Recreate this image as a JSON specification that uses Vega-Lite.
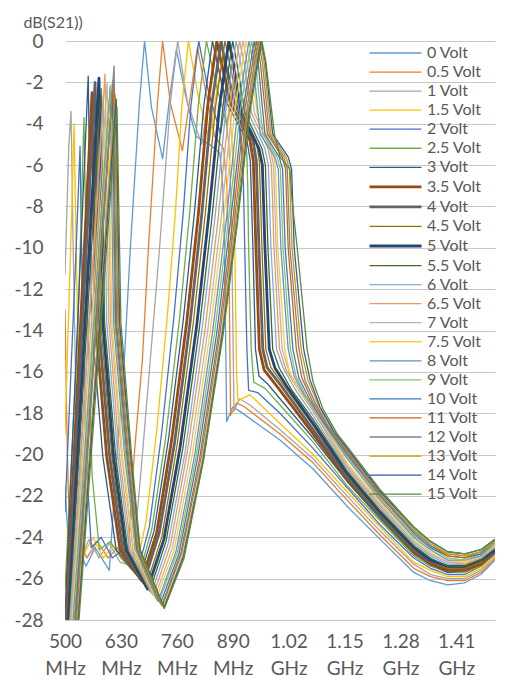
{
  "$schema": "https://vega.github.io/schema/vega-lite/v6.json",
  "width": 430,
  "height": 579,
  "autosize": {"type": "none"},
  "padding": {"left": 65, "top": 41, "right": 37, "bottom": 66},
  "background": "white",
  "config": {
    "view": {"stroke": null},
    "font": "Lato",
    "axis": {"labelFont": "Lato", "titleFont": "Lato", "labelColor": "#595959", "titleColor": "#595959"},
    "legend": {"labelFont": "Lato"}
  },
  "data": {"values": [
{"v":"0 Volt","f":500,"d":-21.5},{"v":"0 Volt","f":512,"d":-25.7},{"v":"0 Volt","f":528,"d":-24.4},{"v":"0 Volt","f":549,"d":-25.4},{"v":"0 Volt","f":570,"d":-24.5},{"v":"0 Volt","f":591,"d":-25.2},{"v":"0 Volt","f":603,"d":-25.6},{"v":"0 Volt","f":621,"d":-20},{"v":"0 Volt","f":638,"d":-15.4},{"v":"0 Volt","f":652,"d":-10},{"v":"0 Volt","f":673,"d":-3},{"v":"0 Volt","f":685,"d":0},{"v":"0 Volt","f":701,"d":-3.2},{"v":"0 Volt","f":727,"d":-5.7},{"v":"0 Volt","f":743,"d":-2.8},{"v":"0 Volt","f":759,"d":-0.4},{"v":"0 Volt","f":780,"d":-2.6},{"v":"0 Volt","f":804,"d":-4.6},{"v":"0 Volt","f":836,"d":-5.0},{"v":"0 Volt","f":860,"d":-5.4},{"v":"0 Volt","f":867,"d":-7.0},{"v":"0 Volt","f":871,"d":-10},{"v":"0 Volt","f":876,"d":-18.4},{"v":"0 Volt","f":890,"d":-17.7},{"v":"0 Volt","f":906,"d":-17.9},{"v":"0 Volt","f":1000,"d":-19.3},{"v":"0 Volt","f":1077,"d":-20.7},{"v":"0 Volt","f":1156,"d":-22.5},{"v":"0 Volt","f":1233,"d":-24.1},{"v":"0 Volt","f":1311,"d":-25.7},{"v":"0 Volt","f":1350,"d":-26.1},{"v":"0 Volt","f":1390,"d":-26.3},{"v":"0 Volt","f":1430,"d":-26.2},{"v":"0 Volt","f":1467,"d":-25.8},{"v":"0 Volt","f":1500,"d":-25.1},
{"v":"0.5 Volt","f":500,"d":-13.0},{"v":"0.5 Volt","f":505,"d":-19.5},{"v":"0.5 Volt","f":512,"d":-25.2},{"v":"0.5 Volt","f":530,"d":-24.0},{"v":"0.5 Volt","f":551,"d":-25.0},{"v":"0.5 Volt","f":575,"d":-24.2},{"v":"0.5 Volt","f":600,"d":-25.0},{"v":"0.5 Volt","f":622,"d":-24.5},{"v":"0.5 Volt","f":645,"d":-25.3},{"v":"0.5 Volt","f":661,"d":-20},{"v":"0.5 Volt","f":680,"d":-15.4},{"v":"0.5 Volt","f":694,"d":-10},{"v":"0.5 Volt","f":715,"d":-3},{"v":"0.5 Volt","f":727,"d":0},{"v":"0.5 Volt","f":745,"d":-3.0},{"v":"0.5 Volt","f":773,"d":-5.3},{"v":"0.5 Volt","f":792,"d":-2.6},{"v":"0.5 Volt","f":808,"d":-0.3},{"v":"0.5 Volt","f":827,"d":-2.4},{"v":"0.5 Volt","f":848,"d":-4.6},{"v":"0.5 Volt","f":869,"d":-5.2},{"v":"0.5 Volt","f":876,"d":-7.0},{"v":"0.5 Volt","f":881,"d":-10},{"v":"0.5 Volt","f":885,"d":-18.1},{"v":"0.5 Volt","f":899,"d":-17.5},{"v":"0.5 Volt","f":918,"d":-17.7},{"v":"0.5 Volt","f":1000,"d":-19.0},{"v":"0.5 Volt","f":1077,"d":-20.4},{"v":"0.5 Volt","f":1156,"d":-22.2},{"v":"0.5 Volt","f":1233,"d":-23.9},{"v":"0.5 Volt","f":1311,"d":-25.5},{"v":"0.5 Volt","f":1350,"d":-25.9},{"v":"0.5 Volt","f":1390,"d":-26.1},{"v":"0.5 Volt","f":1430,"d":-26.1},{"v":"0.5 Volt","f":1467,"d":-25.7},{"v":"0.5 Volt","f":1500,"d":-25.0},
{"v":"1 Volt","f":500,"d":-11.3},{"v":"1 Volt","f":509,"d":-5.0},{"v":"1 Volt","f":514,"d":-3.4},{"v":"1 Volt","f":519,"d":-10},{"v":"1 Volt","f":528,"d":-20},{"v":"1 Volt","f":537,"d":-25.0},{"v":"1 Volt","f":556,"d":-24.1},{"v":"1 Volt","f":579,"d":-25.0},{"v":"1 Volt","f":603,"d":-24.3},{"v":"1 Volt","f":628,"d":-25.2},{"v":"1 Volt","f":657,"d":-25.4},{"v":"1 Volt","f":678,"d":-20.5},{"v":"1 Volt","f":696,"d":-16},{"v":"1 Volt","f":720,"d":-10},{"v":"1 Volt","f":745,"d":-3},{"v":"1 Volt","f":762,"d":0},{"v":"1 Volt","f":785,"d":-3.0},{"v":"1 Volt","f":818,"d":-5.0},{"v":"1 Volt","f":836,"d":-2.5},{"v":"1 Volt","f":850,"d":-0.5},{"v":"1 Volt","f":867,"d":-2.4},{"v":"1 Volt","f":881,"d":-5.0},{"v":"1 Volt","f":885,"d":-7},{"v":"1 Volt","f":888,"d":-10},{"v":"1 Volt","f":893,"d":-17.9},{"v":"1 Volt","f":906,"d":-17.3},{"v":"1 Volt","f":930,"d":-17.6},{"v":"1 Volt","f":1000,"d":-18.8},{"v":"1 Volt","f":1077,"d":-20.2},{"v":"1 Volt","f":1156,"d":-22.0},{"v":"1 Volt","f":1233,"d":-23.7},{"v":"1 Volt","f":1311,"d":-25.3},{"v":"1 Volt","f":1350,"d":-25.8},{"v":"1 Volt","f":1390,"d":-26.0},{"v":"1 Volt","f":1430,"d":-26.0},{"v":"1 Volt","f":1467,"d":-25.6},{"v":"1 Volt","f":1500,"d":-24.9},
{"v":"1.5 Volt","f":500,"d":-19.0},{"v":"1.5 Volt","f":516,"d":-8.0},{"v":"1.5 Volt","f":521,"d":-4.0},{"v":"1.5 Volt","f":526,"d":-10},{"v":"1.5 Volt","f":535,"d":-20},{"v":"1.5 Volt","f":544,"d":-24.8},{"v":"1.5 Volt","f":565,"d":-24.0},{"v":"1.5 Volt","f":589,"d":-25.0},{"v":"1.5 Volt","f":612,"d":-24.4},{"v":"1.5 Volt","f":640,"d":-25.2},{"v":"1.5 Volt","f":664,"d":-25.6},{"v":"1.5 Volt","f":688,"d":-23.3},{"v":"1.5 Volt","f":713,"d":-18.9},{"v":"1.5 Volt","f":738,"d":-13.3},{"v":"1.5 Volt","f":757,"d":-8.2},{"v":"1.5 Volt","f":772,"d":-3.1},{"v":"1.5 Volt","f":787,"d":0},{"v":"1.5 Volt","f":811,"d":-2.8},{"v":"1.5 Volt","f":836,"d":-4.8},{"v":"1.5 Volt","f":853,"d":-2.4},{"v":"1.5 Volt","f":867,"d":-0.8},{"v":"1.5 Volt","f":881,"d":-3.0},{"v":"1.5 Volt","f":890,"d":-5.2},{"v":"1.5 Volt","f":894,"d":-7},{"v":"1.5 Volt","f":895,"d":-10},{"v":"1.5 Volt","f":899,"d":-16.0},{"v":"1.5 Volt","f":902,"d":-17.4},{"v":"1.5 Volt","f":930,"d":-17.1},{"v":"1.5 Volt","f":1000,"d":-18.5},{"v":"1.5 Volt","f":1077,"d":-20.0},{"v":"1.5 Volt","f":1156,"d":-21.8},{"v":"1.5 Volt","f":1233,"d":-23.5},{"v":"1.5 Volt","f":1311,"d":-25.2},{"v":"1.5 Volt","f":1350,"d":-25.6},{"v":"1.5 Volt","f":1390,"d":-25.9},{"v":"1.5 Volt","f":1430,"d":-25.9},{"v":"1.5 Volt","f":1467,"d":-25.5},{"v":"1.5 Volt","f":1500,"d":-24.9},
{"v":"2 Volt","f":500,"d":-22.8},{"v":"2 Volt","f":526,"d":-10},{"v":"2 Volt","f":535,"d":-5.1},{"v":"2 Volt","f":540,"d":-12},{"v":"2 Volt","f":549,"d":-20},{"v":"2 Volt","f":561,"d":-24.5},{"v":"2 Volt","f":584,"d":-24.0},{"v":"2 Volt","f":610,"d":-25.0},{"v":"2 Volt","f":635,"d":-24.6},{"v":"2 Volt","f":667,"d":-25.8},{"v":"2 Volt","f":696,"d":-23.5},{"v":"2 Volt","f":724,"d":-19.1},{"v":"2 Volt","f":753,"d":-13.4},{"v":"2 Volt","f":775,"d":-8.3},{"v":"2 Volt","f":793,"d":-3.1},{"v":"2 Volt","f":811,"d":0},{"v":"2 Volt","f":834,"d":-2.5},{"v":"2 Volt","f":862,"d":-4.5},{"v":"2 Volt","f":878,"d":-2.2},{"v":"2 Volt","f":890,"d":-1.0},{"v":"2 Volt","f":902,"d":-3.5},{"v":"2 Volt","f":911,"d":-5.3},{"v":"2 Volt","f":915,"d":-7},{"v":"2 Volt","f":918,"d":-10},{"v":"2 Volt","f":923,"d":-14.9},{"v":"2 Volt","f":927,"d":-16.9},{"v":"2 Volt","f":948,"d":-17.0},{"v":"2 Volt","f":1000,"d":-18.0},{"v":"2 Volt","f":1077,"d":-19.7},{"v":"2 Volt","f":1156,"d":-21.6},{"v":"2 Volt","f":1233,"d":-23.4},{"v":"2 Volt","f":1311,"d":-25.0},{"v":"2 Volt","f":1350,"d":-25.5},{"v":"2 Volt","f":1390,"d":-25.8},{"v":"2 Volt","f":1430,"d":-25.8},{"v":"2 Volt","f":1467,"d":-25.4},{"v":"2 Volt","f":1500,"d":-24.8},
{"v":"2.5 Volt","f":500,"d":-26.5},{"v":"2.5 Volt","f":530,"d":-14},{"v":"2.5 Volt","f":544,"d":-3.7},{"v":"2.5 Volt","f":551,"d":-12},{"v":"2.5 Volt","f":563,"d":-21},{"v":"2.5 Volt","f":580,"d":-24.6},{"v":"2.5 Volt","f":605,"d":-24.2},{"v":"2.5 Volt","f":630,"d":-25.0},{"v":"2.5 Volt","f":671,"d":-25.9},{"v":"2.5 Volt","f":702,"d":-23.6},{"v":"2.5 Volt","f":734,"d":-19.2},{"v":"2.5 Volt","f":766,"d":-13.5},{"v":"2.5 Volt","f":790,"d":-8.3},{"v":"2.5 Volt","f":810,"d":-3.1},{"v":"2.5 Volt","f":829,"d":0},{"v":"2.5 Volt","f":850,"d":-2.0},{"v":"2.5 Volt","f":876,"d":-4.0},{"v":"2.5 Volt","f":893,"d":-2.2},{"v":"2.5 Volt","f":904,"d":-1.5},{"v":"2.5 Volt","f":916,"d":-4.2},{"v":"2.5 Volt","f":923,"d":-5.5},{"v":"2.5 Volt","f":925,"d":-7},{"v":"2.5 Volt","f":927,"d":-10},{"v":"2.5 Volt","f":933,"d":-14.9},{"v":"2.5 Volt","f":939,"d":-16.5},{"v":"2.5 Volt","f":965,"d":-16.8},{"v":"2.5 Volt","f":1000,"d":-17.6},{"v":"2.5 Volt","f":1077,"d":-19.4},{"v":"2.5 Volt","f":1156,"d":-21.5},{"v":"2.5 Volt","f":1233,"d":-23.2},{"v":"2.5 Volt","f":1311,"d":-24.9},{"v":"2.5 Volt","f":1350,"d":-25.4},{"v":"2.5 Volt","f":1390,"d":-25.7},{"v":"2.5 Volt","f":1430,"d":-25.7},{"v":"2.5 Volt","f":1467,"d":-25.4},{"v":"2.5 Volt","f":1500,"d":-24.7},
{"v":"3 Volt","f":500,"d":-27.8},{"v":"3 Volt","f":554,"d":-1.7},{"v":"3 Volt","f":562,"d":-13.6},{"v":"3 Volt","f":588,"d":-20.1},{"v":"3 Volt","f":619,"d":-24.6},{"v":"3 Volt","f":673,"d":-26.0},{"v":"3 Volt","f":707,"d":-23.7},{"v":"3 Volt","f":741,"d":-19.2},{"v":"3 Volt","f":775,"d":-13.5},{"v":"3 Volt","f":801,"d":-8.3},{"v":"3 Volt","f":823,"d":-3.1},{"v":"3 Volt","f":843,"d":0},{"v":"3 Volt","f":853,"d":-1.0},{"v":"3 Volt","f":876,"d":-3.0},{"v":"3 Volt","f":923,"d":-4.8},{"v":"3 Volt","f":931,"d":-5.8},{"v":"3 Volt","f":937,"d":-10},{"v":"3 Volt","f":943,"d":-14.9},{"v":"3 Volt","f":951,"d":-16.2},{"v":"3 Volt","f":972,"d":-16.6},{"v":"3 Volt","f":1000,"d":-17.3},{"v":"3 Volt","f":1077,"d":-19.2},{"v":"3 Volt","f":1156,"d":-21.3},{"v":"3 Volt","f":1233,"d":-23.1},{"v":"3 Volt","f":1311,"d":-24.8},{"v":"3 Volt","f":1350,"d":-25.3},{"v":"3 Volt","f":1390,"d":-25.7},{"v":"3 Volt","f":1430,"d":-25.6},{"v":"3 Volt","f":1467,"d":-25.3},{"v":"3 Volt","f":1500,"d":-24.7},
{"v":"3.5 Volt","f":500,"d":-28.8},{"v":"3.5 Volt","f":563,"d":-2.5},{"v":"3.5 Volt","f":571,"d":-13.6},{"v":"3.5 Volt","f":597,"d":-20.1},{"v":"3.5 Volt","f":628,"d":-24.6},{"v":"3.5 Volt","f":678,"d":-26.1},{"v":"3.5 Volt","f":713,"d":-23.8},{"v":"3.5 Volt","f":748,"d":-19.3},{"v":"3.5 Volt","f":783,"d":-13.6},{"v":"3.5 Volt","f":810,"d":-8.4},{"v":"3.5 Volt","f":832,"d":-3.1},{"v":"3.5 Volt","f":853,"d":0},{"v":"3.5 Volt","f":863,"d":-1.0},{"v":"3.5 Volt","f":885,"d":-3.0},{"v":"3.5 Volt","f":930,"d":-4.8},{"v":"3.5 Volt","f":938,"d":-5.8},{"v":"3.5 Volt","f":944,"d":-10},{"v":"3.5 Volt","f":952,"d":-14.9},{"v":"3.5 Volt","f":963,"d":-15.9},{"v":"3.5 Volt","f":993,"d":-16.7},{"v":"3.5 Volt","f":1077,"d":-19.0},{"v":"3.5 Volt","f":1156,"d":-21.2},{"v":"3.5 Volt","f":1233,"d":-23.0},{"v":"3.5 Volt","f":1311,"d":-24.7},{"v":"3.5 Volt","f":1350,"d":-25.3},{"v":"3.5 Volt","f":1390,"d":-25.6},{"v":"3.5 Volt","f":1430,"d":-25.6},{"v":"3.5 Volt","f":1467,"d":-25.3},{"v":"3.5 Volt","f":1500,"d":-24.7},
{"v":"4 Volt","f":500,"d":-29.5},{"v":"4 Volt","f":570,"d":-2.0},{"v":"4 Volt","f":578,"d":-13.6},{"v":"4 Volt","f":604,"d":-20.1},{"v":"4 Volt","f":634,"d":-24.6},{"v":"4 Volt","f":683,"d":-26.2},{"v":"4 Volt","f":719,"d":-23.8},{"v":"4 Volt","f":755,"d":-19.4},{"v":"4 Volt","f":791,"d":-13.6},{"v":"4 Volt","f":818,"d":-8.4},{"v":"4 Volt","f":841,"d":-3.1},{"v":"4 Volt","f":863,"d":0},{"v":"4 Volt","f":872,"d":-1.0},{"v":"4 Volt","f":894,"d":-3.0},{"v":"4 Volt","f":937,"d":-4.8},{"v":"4 Volt","f":945,"d":-5.8},{"v":"4 Volt","f":951,"d":-10},{"v":"4 Volt","f":960,"d":-14.9},{"v":"4 Volt","f":970,"d":-15.8},{"v":"4 Volt","f":1000,"d":-16.6},{"v":"4 Volt","f":1077,"d":-18.8},{"v":"4 Volt","f":1156,"d":-21.1},{"v":"4 Volt","f":1233,"d":-23.0},{"v":"4 Volt","f":1311,"d":-24.6},{"v":"4 Volt","f":1350,"d":-25.2},{"v":"4 Volt","f":1390,"d":-25.5},{"v":"4 Volt","f":1430,"d":-25.5},{"v":"4 Volt","f":1467,"d":-25.2},{"v":"4 Volt","f":1500,"d":-24.6},
{"v":"4.5 Volt","f":500,"d":-30.1},{"v":"4.5 Volt","f":575,"d":-2.8},{"v":"4.5 Volt","f":583,"d":-13.6},{"v":"4.5 Volt","f":609,"d":-20.1},{"v":"4.5 Volt","f":638,"d":-24.6},{"v":"4.5 Volt","f":688,"d":-26.4},{"v":"4.5 Volt","f":725,"d":-24.0},{"v":"4.5 Volt","f":761,"d":-19.5},{"v":"4.5 Volt","f":798,"d":-13.7},{"v":"4.5 Volt","f":826,"d":-8.4},{"v":"4.5 Volt","f":850,"d":-3.2},{"v":"4.5 Volt","f":872,"d":0},{"v":"4.5 Volt","f":882,"d":-1.0},{"v":"4.5 Volt","f":902,"d":-3.0},{"v":"4.5 Volt","f":944,"d":-4.8},{"v":"4.5 Volt","f":952,"d":-5.8},{"v":"4.5 Volt","f":958,"d":-10},{"v":"4.5 Volt","f":967,"d":-14.9},{"v":"4.5 Volt","f":979,"d":-15.8},{"v":"4.5 Volt","f":1007,"d":-16.6},{"v":"4.5 Volt","f":1077,"d":-18.6},{"v":"4.5 Volt","f":1156,"d":-21.0},{"v":"4.5 Volt","f":1233,"d":-22.9},{"v":"4.5 Volt","f":1311,"d":-24.6},{"v":"4.5 Volt","f":1350,"d":-25.1},{"v":"4.5 Volt","f":1390,"d":-25.5},{"v":"4.5 Volt","f":1430,"d":-25.5},{"v":"4.5 Volt","f":1467,"d":-25.2},{"v":"4.5 Volt","f":1500,"d":-24.6},
{"v":"5 Volt","f":500,"d":-30.8},{"v":"5 Volt","f":579,"d":-1.8},{"v":"5 Volt","f":588,"d":-13.6},{"v":"5 Volt","f":613,"d":-20.1},{"v":"5 Volt","f":642,"d":-24.6},{"v":"5 Volt","f":692,"d":-26.5},{"v":"5 Volt","f":730,"d":-24.1},{"v":"5 Volt","f":768,"d":-19.6},{"v":"5 Volt","f":806,"d":-13.8},{"v":"5 Volt","f":834,"d":-8.5},{"v":"5 Volt","f":859,"d":-3.2},{"v":"5 Volt","f":881,"d":0},{"v":"5 Volt","f":891,"d":-1.0},{"v":"5 Volt","f":910,"d":-3.5},{"v":"5 Volt","f":951,"d":-5.2},{"v":"5 Volt","f":959,"d":-6.0},{"v":"5 Volt","f":965,"d":-10},{"v":"5 Volt","f":975,"d":-14.9},{"v":"5 Volt","f":988,"d":-15.8},{"v":"5 Volt","f":1019,"d":-16.8},{"v":"5 Volt","f":1077,"d":-18.5},{"v":"5 Volt","f":1156,"d":-20.9},{"v":"5 Volt","f":1233,"d":-22.8},{"v":"5 Volt","f":1311,"d":-24.5},{"v":"5 Volt","f":1350,"d":-25.1},{"v":"5 Volt","f":1390,"d":-25.4},{"v":"5 Volt","f":1430,"d":-25.4},{"v":"5 Volt","f":1467,"d":-25.1},{"v":"5 Volt","f":1500,"d":-24.6},
{"v":"5.5 Volt","f":500,"d":-31.3},{"v":"5.5 Volt","f":584,"d":-2.3},{"v":"5.5 Volt","f":592,"d":-13.6},{"v":"5.5 Volt","f":618,"d":-20.1},{"v":"5.5 Volt","f":646,"d":-24.6},{"v":"5.5 Volt","f":697,"d":-26.6},{"v":"5.5 Volt","f":735,"d":-24.2},{"v":"5.5 Volt","f":774,"d":-19.7},{"v":"5.5 Volt","f":813,"d":-13.8},{"v":"5.5 Volt","f":842,"d":-8.5},{"v":"5.5 Volt","f":867,"d":-3.2},{"v":"5.5 Volt","f":890,"d":0},{"v":"5.5 Volt","f":899,"d":-1.0},{"v":"5.5 Volt","f":919,"d":-3.5},{"v":"5.5 Volt","f":958,"d":-5.2},{"v":"5.5 Volt","f":966,"d":-6.0},{"v":"5.5 Volt","f":972,"d":-10},{"v":"5.5 Volt","f":983,"d":-14.9},{"v":"5.5 Volt","f":998,"d":-15.8},{"v":"5.5 Volt","f":1028,"d":-16.9},{"v":"5.5 Volt","f":1077,"d":-18.3},{"v":"5.5 Volt","f":1156,"d":-20.8},{"v":"5.5 Volt","f":1233,"d":-22.7},{"v":"5.5 Volt","f":1311,"d":-24.4},{"v":"5.5 Volt","f":1350,"d":-25.0},{"v":"5.5 Volt","f":1390,"d":-25.4},{"v":"5.5 Volt","f":1430,"d":-25.4},{"v":"5.5 Volt","f":1467,"d":-25.1},{"v":"5.5 Volt","f":1500,"d":-24.5},
{"v":"6 Volt","f":500,"d":-31.8},{"v":"6 Volt","f":589,"d":-2.6},{"v":"6 Volt","f":597,"d":-13.6},{"v":"6 Volt","f":623,"d":-20.1},{"v":"6 Volt","f":650,"d":-24.6},{"v":"6 Volt","f":701,"d":-26.7},{"v":"6 Volt","f":740,"d":-24.3},{"v":"6 Volt","f":780,"d":-19.8},{"v":"6 Volt","f":819,"d":-13.9},{"v":"6 Volt","f":849,"d":-8.5},{"v":"6 Volt","f":875,"d":-3.2},{"v":"6 Volt","f":898,"d":0},{"v":"6 Volt","f":908,"d":-1.0},{"v":"6 Volt","f":927,"d":-3.5},{"v":"6 Volt","f":965,"d":-5.2},{"v":"6 Volt","f":973,"d":-6.0},{"v":"6 Volt","f":979,"d":-10},{"v":"6 Volt","f":992,"d":-14.9},{"v":"6 Volt","f":1007,"d":-15.8},{"v":"6 Volt","f":1037,"d":-16.9},{"v":"6 Volt","f":1077,"d":-18.1},{"v":"6 Volt","f":1156,"d":-20.7},{"v":"6 Volt","f":1233,"d":-22.6},{"v":"6 Volt","f":1311,"d":-24.3},{"v":"6 Volt","f":1350,"d":-24.9},{"v":"6 Volt","f":1390,"d":-25.3},{"v":"6 Volt","f":1430,"d":-25.3},{"v":"6 Volt","f":1467,"d":-25.0},{"v":"6 Volt","f":1500,"d":-24.5},
{"v":"6.5 Volt","f":500,"d":-32.5},{"v":"6.5 Volt","f":593,"d":-1.6},{"v":"6.5 Volt","f":602,"d":-13.6},{"v":"6.5 Volt","f":627,"d":-20.1},{"v":"6.5 Volt","f":654,"d":-24.6},{"v":"6.5 Volt","f":705,"d":-26.8},{"v":"6.5 Volt","f":745,"d":-24.4},{"v":"6.5 Volt","f":785,"d":-19.8},{"v":"6.5 Volt","f":826,"d":-13.9},{"v":"6.5 Volt","f":856,"d":-8.6},{"v":"6.5 Volt","f":882,"d":-3.2},{"v":"6.5 Volt","f":906,"d":0},{"v":"6.5 Volt","f":916,"d":-1.0},{"v":"6.5 Volt","f":934,"d":-3.5},{"v":"6.5 Volt","f":972,"d":-5.2},{"v":"6.5 Volt","f":980,"d":-6.0},{"v":"6.5 Volt","f":986,"d":-10},{"v":"6.5 Volt","f":999,"d":-14.9},{"v":"6.5 Volt","f":1014,"d":-15.9},{"v":"6.5 Volt","f":1044,"d":-16.9},{"v":"6.5 Volt","f":1077,"d":-17.9},{"v":"6.5 Volt","f":1156,"d":-20.6},{"v":"6.5 Volt","f":1233,"d":-22.5},{"v":"6.5 Volt","f":1311,"d":-24.2},{"v":"6.5 Volt","f":1350,"d":-24.8},{"v":"6.5 Volt","f":1390,"d":-25.2},{"v":"6.5 Volt","f":1430,"d":-25.3},{"v":"6.5 Volt","f":1467,"d":-25.0},{"v":"6.5 Volt","f":1500,"d":-24.4},
{"v":"7 Volt","f":500,"d":-32.8},{"v":"7 Volt","f":598,"d":-2.0},{"v":"7 Volt","f":606,"d":-13.6},{"v":"7 Volt","f":632,"d":-20.1},{"v":"7 Volt","f":658,"d":-24.6},{"v":"7 Volt","f":709,"d":-26.9},{"v":"7 Volt","f":750,"d":-24.5},{"v":"7 Volt","f":791,"d":-19.9},{"v":"7 Volt","f":832,"d":-14.0},{"v":"7 Volt","f":863,"d":-8.6},{"v":"7 Volt","f":889,"d":-3.2},{"v":"7 Volt","f":914,"d":0},{"v":"7 Volt","f":923,"d":-1.0},{"v":"7 Volt","f":941,"d":-3.5},{"v":"7 Volt","f":977,"d":-5.2},{"v":"7 Volt","f":985,"d":-6.0},{"v":"7 Volt","f":991,"d":-10},{"v":"7 Volt","f":1005,"d":-14.9},{"v":"7 Volt","f":1021,"d":-16.0},{"v":"7 Volt","f":1051,"d":-17.0},{"v":"7 Volt","f":1077,"d":-17.8},{"v":"7 Volt","f":1156,"d":-20.5},{"v":"7 Volt","f":1233,"d":-22.4},{"v":"7 Volt","f":1311,"d":-24.2},{"v":"7 Volt","f":1350,"d":-24.8},{"v":"7 Volt","f":1390,"d":-25.2},{"v":"7 Volt","f":1430,"d":-25.2},{"v":"7 Volt","f":1467,"d":-25.0},{"v":"7 Volt","f":1500,"d":-24.4},
{"v":"7.5 Volt","f":500,"d":-33.2},{"v":"7.5 Volt","f":600,"d":-2.9},{"v":"7.5 Volt","f":609,"d":-13.6},{"v":"7.5 Volt","f":634,"d":-20.1},{"v":"7.5 Volt","f":660,"d":-24.6},{"v":"7.5 Volt","f":712,"d":-27.0},{"v":"7.5 Volt","f":754,"d":-24.6},{"v":"7.5 Volt","f":796,"d":-20.0},{"v":"7.5 Volt","f":838,"d":-14.0},{"v":"7.5 Volt","f":869,"d":-8.6},{"v":"7.5 Volt","f":896,"d":-3.2},{"v":"7.5 Volt","f":921,"d":0},{"v":"7.5 Volt","f":930,"d":-1.0},{"v":"7.5 Volt","f":947,"d":-3.5},{"v":"7.5 Volt","f":981,"d":-5.2},{"v":"7.5 Volt","f":989,"d":-6.0},{"v":"7.5 Volt","f":995,"d":-10},{"v":"7.5 Volt","f":1011,"d":-14.9},{"v":"7.5 Volt","f":1023,"d":-16.1},{"v":"7.5 Volt","f":1047,"d":-17.0},{"v":"7.5 Volt","f":1077,"d":-17.7},{"v":"7.5 Volt","f":1156,"d":-20.4},{"v":"7.5 Volt","f":1233,"d":-22.3},{"v":"7.5 Volt","f":1311,"d":-24.1},{"v":"7.5 Volt","f":1350,"d":-24.7},{"v":"7.5 Volt","f":1390,"d":-25.1},{"v":"7.5 Volt","f":1430,"d":-25.2},{"v":"7.5 Volt","f":1467,"d":-24.9},{"v":"7.5 Volt","f":1500,"d":-24.4},
{"v":"8 Volt","f":500,"d":-33.7},{"v":"8 Volt","f":605,"d":-2.2},{"v":"8 Volt","f":613,"d":-13.6},{"v":"8 Volt","f":639,"d":-20.1},{"v":"8 Volt","f":664,"d":-24.6},{"v":"8 Volt","f":716,"d":-27.1},{"v":"8 Volt","f":758,"d":-24.7},{"v":"8 Volt","f":801,"d":-20.1},{"v":"8 Volt","f":843,"d":-14.1},{"v":"8 Volt","f":875,"d":-8.7},{"v":"8 Volt","f":902,"d":-3.3},{"v":"8 Volt","f":928,"d":0},{"v":"8 Volt","f":937,"d":-1.0},{"v":"8 Volt","f":954,"d":-4.5},{"v":"8 Volt","f":988,"d":-5.6},{"v":"8 Volt","f":996,"d":-6.2},{"v":"8 Volt","f":1002,"d":-10},{"v":"8 Volt","f":1019,"d":-14.9},{"v":"8 Volt","f":1033,"d":-16.2},{"v":"8 Volt","f":1056,"d":-17.1},{"v":"8 Volt","f":1089,"d":-18.1},{"v":"8 Volt","f":1156,"d":-20.2},{"v":"8 Volt","f":1233,"d":-22.2},{"v":"8 Volt","f":1311,"d":-24.0},{"v":"8 Volt","f":1350,"d":-24.6},{"v":"8 Volt","f":1390,"d":-25.1},{"v":"8 Volt","f":1430,"d":-25.1},{"v":"8 Volt","f":1467,"d":-24.9},{"v":"8 Volt","f":1500,"d":-24.3},
{"v":"9 Volt","f":500,"d":-34.4},{"v":"9 Volt","f":607,"d":-2.1},{"v":"9 Volt","f":616,"d":-13.6},{"v":"9 Volt","f":641,"d":-20.1},{"v":"9 Volt","f":665,"d":-24.6},{"v":"9 Volt","f":719,"d":-27.1},{"v":"9 Volt","f":762,"d":-24.7},{"v":"9 Volt","f":805,"d":-20.1},{"v":"9 Volt","f":848,"d":-14.1},{"v":"9 Volt","f":880,"d":-8.7},{"v":"9 Volt","f":908,"d":-3.3},{"v":"9 Volt","f":934,"d":0},{"v":"9 Volt","f":943,"d":-1.0},{"v":"9 Volt","f":960,"d":-4.5},{"v":"9 Volt","f":993,"d":-5.6},{"v":"9 Volt","f":1001,"d":-6.2},{"v":"9 Volt","f":1007,"d":-10},{"v":"9 Volt","f":1024,"d":-14.9},{"v":"9 Volt","f":1037,"d":-16.2},{"v":"9 Volt","f":1061,"d":-17.2},{"v":"9 Volt","f":1093,"d":-18.2},{"v":"9 Volt","f":1156,"d":-20.1},{"v":"9 Volt","f":1233,"d":-22.1},{"v":"9 Volt","f":1311,"d":-23.9},{"v":"9 Volt","f":1350,"d":-24.5},{"v":"9 Volt","f":1390,"d":-25.0},{"v":"9 Volt","f":1430,"d":-25.1},{"v":"9 Volt","f":1467,"d":-24.8},{"v":"9 Volt","f":1500,"d":-24.3},
{"v":"10 Volt","f":500,"d":-34.8},{"v":"10 Volt","f":610,"d":-2.5},{"v":"10 Volt","f":618,"d":-13.6},{"v":"10 Volt","f":644,"d":-20.1},{"v":"10 Volt","f":667,"d":-24.6},{"v":"10 Volt","f":722,"d":-27.2},{"v":"10 Volt","f":765,"d":-24.8},{"v":"10 Volt","f":809,"d":-20.1},{"v":"10 Volt","f":853,"d":-14.1},{"v":"10 Volt","f":885,"d":-8.7},{"v":"10 Volt","f":914,"d":-3.3},{"v":"10 Volt","f":940,"d":0},{"v":"10 Volt","f":949,"d":-1.0},{"v":"10 Volt","f":965,"d":-4.5},{"v":"10 Volt","f":998,"d":-5.6},{"v":"10 Volt","f":1006,"d":-6.2},{"v":"10 Volt","f":1012,"d":-10},{"v":"10 Volt","f":1030,"d":-14.9},{"v":"10 Volt","f":1044,"d":-16.3},{"v":"10 Volt","f":1068,"d":-17.3},{"v":"10 Volt","f":1100,"d":-18.4},{"v":"10 Volt","f":1156,"d":-20.0},{"v":"10 Volt","f":1233,"d":-22.0},{"v":"10 Volt","f":1311,"d":-23.8},{"v":"10 Volt","f":1350,"d":-24.5},{"v":"10 Volt","f":1390,"d":-24.9},{"v":"10 Volt","f":1430,"d":-25.0},{"v":"10 Volt","f":1467,"d":-24.8},{"v":"10 Volt","f":1500,"d":-24.2},
{"v":"11 Volt","f":500,"d":-35.5},{"v":"11 Volt","f":612,"d":-1.9},{"v":"11 Volt","f":620,"d":-13.6},{"v":"11 Volt","f":646,"d":-20.1},{"v":"11 Volt","f":669,"d":-24.6},{"v":"11 Volt","f":725,"d":-27.3},{"v":"11 Volt","f":769,"d":-24.8},{"v":"11 Volt","f":813,"d":-20.2},{"v":"11 Volt","f":857,"d":-14.2},{"v":"11 Volt","f":890,"d":-8.7},{"v":"11 Volt","f":918,"d":-3.3},{"v":"11 Volt","f":945,"d":0},{"v":"11 Volt","f":954,"d":-1.0},{"v":"11 Volt","f":971,"d":-4.5},{"v":"11 Volt","f":1005,"d":-5.6},{"v":"11 Volt","f":1013,"d":-6.2},{"v":"11 Volt","f":1019,"d":-10},{"v":"11 Volt","f":1038,"d":-14.9},{"v":"11 Volt","f":1051,"d":-16.3},{"v":"11 Volt","f":1075,"d":-17.4},{"v":"11 Volt","f":1107,"d":-18.5},{"v":"11 Volt","f":1156,"d":-19.9},{"v":"11 Volt","f":1233,"d":-22.0},{"v":"11 Volt","f":1311,"d":-23.7},{"v":"11 Volt","f":1350,"d":-24.4},{"v":"11 Volt","f":1390,"d":-24.9},{"v":"11 Volt","f":1430,"d":-25.0},{"v":"11 Volt","f":1467,"d":-24.7},{"v":"11 Volt","f":1500,"d":-24.2},
{"v":"12 Volt","f":500,"d":-36.2},{"v":"12 Volt","f":614,"d":-1.2},{"v":"12 Volt","f":623,"d":-13.6},{"v":"12 Volt","f":648,"d":-20.1},{"v":"12 Volt","f":670,"d":-24.6},{"v":"12 Volt","f":727,"d":-27.3},{"v":"12 Volt","f":771,"d":-24.8},{"v":"12 Volt","f":816,"d":-20.2},{"v":"12 Volt","f":860,"d":-14.2},{"v":"12 Volt","f":894,"d":-8.7},{"v":"12 Volt","f":923,"d":-3.3},{"v":"12 Volt","f":949,"d":0},{"v":"12 Volt","f":959,"d":-1.0},{"v":"12 Volt","f":975,"d":-4.5},{"v":"12 Volt","f":1009,"d":-5.6},{"v":"12 Volt","f":1017,"d":-6.2},{"v":"12 Volt","f":1023,"d":-10},{"v":"12 Volt","f":1044,"d":-14.9},{"v":"12 Volt","f":1058,"d":-16.4},{"v":"12 Volt","f":1082,"d":-17.5},{"v":"12 Volt","f":1114,"d":-18.7},{"v":"12 Volt","f":1156,"d":-19.8},{"v":"12 Volt","f":1233,"d":-21.9},{"v":"12 Volt","f":1311,"d":-23.7},{"v":"12 Volt","f":1350,"d":-24.4},{"v":"12 Volt","f":1390,"d":-24.8},{"v":"12 Volt","f":1430,"d":-24.9},{"v":"12 Volt","f":1467,"d":-24.7},{"v":"12 Volt","f":1500,"d":-24.2},
{"v":"13 Volt","f":500,"d":-36.4},{"v":"13 Volt","f":617,"d":-2.6},{"v":"13 Volt","f":625,"d":-13.6},{"v":"13 Volt","f":651,"d":-20.1},{"v":"13 Volt","f":672,"d":-24.6},{"v":"13 Volt","f":729,"d":-27.4},{"v":"13 Volt","f":774,"d":-24.9},{"v":"13 Volt","f":819,"d":-20.3},{"v":"13 Volt","f":864,"d":-14.2},{"v":"13 Volt","f":897,"d":-8.8},{"v":"13 Volt","f":926,"d":-3.3},{"v":"13 Volt","f":953,"d":0},{"v":"13 Volt","f":963,"d":-1.0},{"v":"13 Volt","f":979,"d":-4.5},{"v":"13 Volt","f":1014,"d":-5.6},{"v":"13 Volt","f":1022,"d":-6.2},{"v":"13 Volt","f":1028,"d":-10},{"v":"13 Volt","f":1049,"d":-14.9},{"v":"13 Volt","f":1065,"d":-16.4},{"v":"13 Volt","f":1089,"d":-17.6},{"v":"13 Volt","f":1121,"d":-18.8},{"v":"13 Volt","f":1156,"d":-19.7},{"v":"13 Volt","f":1233,"d":-21.8},{"v":"13 Volt","f":1311,"d":-23.6},{"v":"13 Volt","f":1350,"d":-24.3},{"v":"13 Volt","f":1390,"d":-24.8},{"v":"13 Volt","f":1430,"d":-24.9},{"v":"13 Volt","f":1467,"d":-24.7},{"v":"13 Volt","f":1500,"d":-24.2},
{"v":"14 Volt","f":500,"d":-36.8},{"v":"14 Volt","f":619,"d":-2.8},{"v":"14 Volt","f":627,"d":-13.6},{"v":"14 Volt","f":653,"d":-20.1},{"v":"14 Volt","f":674,"d":-24.6},{"v":"14 Volt","f":731,"d":-27.4},{"v":"14 Volt","f":776,"d":-24.9},{"v":"14 Volt","f":821,"d":-20.3},{"v":"14 Volt","f":866,"d":-14.2},{"v":"14 Volt","f":900,"d":-8.8},{"v":"14 Volt","f":929,"d":-3.3},{"v":"14 Volt","f":956,"d":0},{"v":"14 Volt","f":966,"d":-1.0},{"v":"14 Volt","f":983,"d":-4.5},{"v":"14 Volt","f":1019,"d":-5.6},{"v":"14 Volt","f":1027,"d":-6.2},{"v":"14 Volt","f":1033,"d":-10},{"v":"14 Volt","f":1055,"d":-14.9},{"v":"14 Volt","f":1070,"d":-16.4},{"v":"14 Volt","f":1093,"d":-17.7},{"v":"14 Volt","f":1126,"d":-18.9},{"v":"14 Volt","f":1156,"d":-19.7},{"v":"14 Volt","f":1233,"d":-21.8},{"v":"14 Volt","f":1311,"d":-23.5},{"v":"14 Volt","f":1350,"d":-24.2},{"v":"14 Volt","f":1390,"d":-24.7},{"v":"14 Volt","f":1430,"d":-24.8},{"v":"14 Volt","f":1467,"d":-24.6},{"v":"14 Volt","f":1500,"d":-24.1},
{"v":"15 Volt","f":500,"d":-37.1},{"v":"15 Volt","f":621,"d":-3.2},{"v":"15 Volt","f":630,"d":-13.6},{"v":"15 Volt","f":655,"d":-20.1},{"v":"15 Volt","f":675,"d":-24.6},{"v":"15 Volt","f":731,"d":-27.45},{"v":"15 Volt","f":777,"d":-25.0},{"v":"15 Volt","f":822,"d":-20.3},{"v":"15 Volt","f":867,"d":-14.3},{"v":"15 Volt","f":901,"d":-8.8},{"v":"15 Volt","f":931,"d":-3.3},{"v":"15 Volt","f":958,"d":0},{"v":"15 Volt","f":967,"d":-1.0},{"v":"15 Volt","f":987,"d":-4.5},{"v":"15 Volt","f":1000,"d":-5.6},{"v":"15 Volt","f":1023,"d":-6.2},{"v":"15 Volt","f":1028,"d":-7.7},{"v":"15 Volt","f":1040,"d":-10},{"v":"15 Volt","f":1063,"d":-14.9},{"v":"15 Volt","f":1077,"d":-16.5},{"v":"15 Volt","f":1100,"d":-17.8},{"v":"15 Volt","f":1133,"d":-19.0},{"v":"15 Volt","f":1156,"d":-19.6},{"v":"15 Volt","f":1233,"d":-21.7},{"v":"15 Volt","f":1311,"d":-23.5},{"v":"15 Volt","f":1350,"d":-24.2},{"v":"15 Volt","f":1390,"d":-24.7},{"v":"15 Volt","f":1430,"d":-24.8},{"v":"15 Volt","f":1467,"d":-24.6},{"v":"15 Volt","f":1500,"d":-24.1}
  ]},
  "mark": {"type": "line", "clip": true, "strokeJoin": "round"},
  "encoding": {
    "x": {
      "field": "f", "type": "quantitative",
      "scale": {"domain": [500, 1500], "nice": false, "zero": false},
      "axis": {
        "title": null, "grid": false, "ticks": false, "domain": false,
        "values": [500, 630, 760, 890, 1020, 1150, 1280, 1410],
        "labelExpr": "datum.value < 1000 ? [format(datum.value, 'd'), 'MHz'] : [format(datum.value / 1000, '.2f'), 'GHz']",
        "labelFontSize": 19, "labelPadding": 12, "labelLineHeight": 27, "labelFlush": false, "labelOverlap": false
      }
    },
    "y": {
      "field": "d", "type": "quantitative",
      "scale": {"domain": [-28, 0], "nice": false, "zero": false},
      "axis": {
        "title": "dB(S21))", "titleAngle": 0, "titleAlign": "left", "titleBaseline": "alphabetic",
        "titleX": -42, "titleY": -14, "titleFontSize": 16, "titleFontWeight": "normal",
        "values": [-28, -26, -24, -22, -20, -18, -16, -14, -12, -10, -8, -6, -4, -2, 0],
        "labelExpr": "datum.value + ''",
        "labelFontSize": 19, "labelPadding": 22, "ticks": false, "domain": false,
        "grid": true, "gridColor": "#C8C8C8", "gridWidth": 1
      }
    },
    "color": {
      "field": "v", "type": "nominal",
      "scale": {
        "domain": ["0 Volt","0.5 Volt","1 Volt","1.5 Volt","2 Volt","2.5 Volt","3 Volt","3.5 Volt","4 Volt","4.5 Volt","5 Volt","5.5 Volt","6 Volt","6.5 Volt","7 Volt","7.5 Volt","8 Volt","9 Volt","10 Volt","11 Volt","12 Volt","13 Volt","14 Volt","15 Volt"],
        "range": ["#5B9BD5","#ED7D31","#A5A5A5","#FFC000","#4472C4","#70AD47","#255E91","#9E480E","#636363","#997300","#264478","#43682B","#7CAFDD","#F1975A","#B7B7B7","#FFCD33","#698ED0","#8CC168","#327DC2","#D26012","#848484","#CC9A00","#335AA1","#5A8A39"]
      },
      "legend": {
        "title": null, "orient": "none", "legendX": 321, "legendY": 3,
        "symbolType": "M-3.25,0H3.25", "symbolSize": 256,
        "labelFontSize": 16, "labelColor": "#595959", "labelOffset": 22, "padding": 0, "rowPadding": 2.05
      }
    },
    "strokeWidth": {
      "field": "v", "type": "nominal",
      "scale": {
        "type": "ordinal",
        "domain": ["0 Volt","0.5 Volt","1 Volt","1.5 Volt","2 Volt","2.5 Volt","3 Volt","3.5 Volt","4 Volt","4.5 Volt","5 Volt","5.5 Volt","6 Volt","6.5 Volt","7 Volt","7.5 Volt","8 Volt","9 Volt","10 Volt","11 Volt","12 Volt","13 Volt","14 Volt","15 Volt"],
        "range": [1.3,1.3,1.3,1.3,1.3,1.3,1.3,2.8,2.8,1.3,2.8,1.3,1.3,1.3,1.3,1.3,1.3,1.3,1.3,1.3,1.3,1.3,1.3,1.3]
      }
    }
  }
}
